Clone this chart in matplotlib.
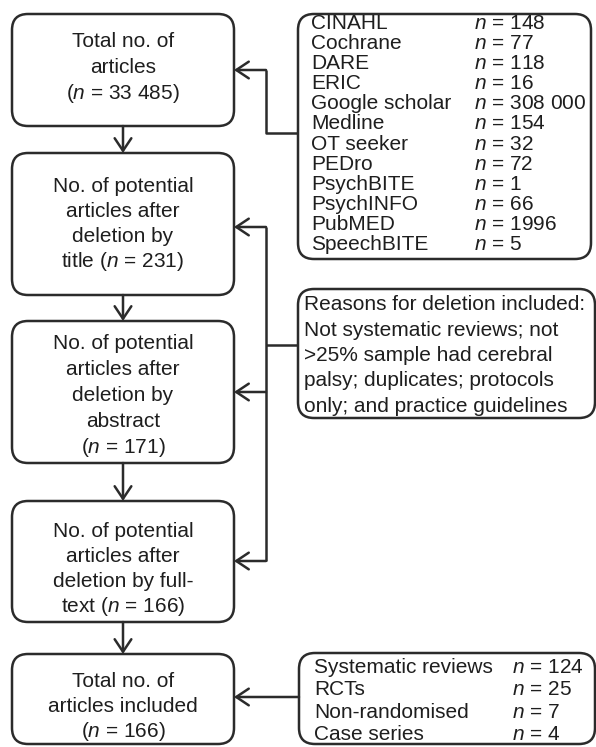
#!/usr/bin/env python3
import matplotlib
matplotlib.use("Agg")
import matplotlib.pyplot as plt
from matplotlib.patches import FancyBboxPatch

# data
flow_steps = [
    ["Total no. of", "articles", "($n$ = 33 485)"],
    ["No. of potential", "articles after", "deletion by", "title ($n$ = 231)"],
    ["No. of potential", "articles after", "deletion by", "abstract", "($n$ = 171)"],
    ["No. of potential", "articles after", "deletion by full-", "text ($n$ = 166)"],
    ["Total no. of", "articles included", "($n$ = 166)"],
]
databases = ["CINAHL", "Cochrane", "DARE", "ERIC", "Google scholar", "Medline",
             "OT seeker", "PEDro", "PsychBITE", "PsychINFO", "PubMED", "SpeechBITE"]
database_n = ["148", "77", "118", "16", "308 000", "154",
              "32", "72", "1", "66", "1996", "5"]
reasons = ["Reasons for deletion included:",
           "Not systematic reviews; not",
           ">25% sample had cerebral",
           "palsy; duplicates; protocols",
           "only; and practice guidelines"]
study_types = ["Systematic reviews", "RCTs", "Non-randomised", "Case series"]
study_n = ["124", "25", "7", "4"]

plt.rcParams['font.family'] = 'Liberation Sans'
plt.rcParams['mathtext.fontset'] = 'custom'
plt.rcParams['mathtext.rm'] = 'Liberation Sans'
plt.rcParams['mathtext.it'] = 'Liberation Sans:italic'

INK = "#2b2b2b"
TXT = "#1e1e1e"
LW = 1.8
FS = 15

fig = plt.figure(figsize=(5.96, 7.47), dpi=100)
ax = fig.add_axes([0, 0, 1, 1])
ax.set_xlim(0, 596)
ax.set_ylim(747, 0)
ax.axis('off')


def box(x0, y0, x1, y1):
    p = FancyBboxPatch((x0, y0), x1 - x0, y1 - y0,
                       boxstyle="round,pad=0,rounding_size=16",
                       fc="white", ec=INK, lw=LW, zorder=2)
    ax.add_patch(p)


def arrow(start, end):
    ax.annotate("", xy=end, xytext=start,
                arrowprops=dict(arrowstyle="->,head_length=0.45,head_width=0.3",
                                lw=LW, color=INK, shrinkA=0, shrinkB=0,
                                mutation_scale=20), zorder=3)


def line(xs, ys):
    ax.plot(xs, ys, color=INK, lw=LW, solid_capstyle='butt', zorder=1)


def label(x, y, t, ha='left'):
    ax.text(x, y, t, ha=ha, va='baseline', fontsize=FS, color=TXT, zorder=4)


# left column boxes: (top, bottom, first baseline, line step)
left_x0, left_x1 = 12, 234
cx = (left_x0 + left_x1) / 2
box_y = [(14, 126), (153, 295), (321, 463), (501, 622), (654, 744)]
first_base = [47, 192, 349, 537, 687]
steps = [26, 25, 26, 25, 25]
for (y0, y1), lines, b0, st in zip(box_y, flow_steps, first_base, steps):
    box(left_x0, y0, left_x1, y1)
    for i, t in enumerate(lines):
        label(cx, b0 + i * st, t, ha='center')

# down arrows
for (a0, a1), (b0, b1) in zip(box_y[:-1], box_y[1:]):
    arrow((cx, a1), (cx, b0))

# databases box
box(298, 14, 591, 259)
db_step = (250 - 29) / (len(databases) - 1)
for i, (name, n) in enumerate(zip(databases, database_n)):
    y = 29 + i * db_step
    label(311, y, name)
    label(474, y, "$n$ = " + n)

# connector databases -> box 1
line([298, 266, 266], [133, 133, 70])
arrow((266, 70), (left_x1, 70))

# reasons box
box(298, 289, 595, 418)
for i, t in enumerate(reasons):
    label(304, 310 + i * 25.5, t)

# vertical connector with arrows into boxes 2-4
line([266, 266], [227, 561])
line([266, 298], [345, 345])
for y in [227, 392, 561]:
    arrow((266, y), (left_x1, y))

# study types box
box(299, 653, 595, 744)
for i, (name, n) in enumerate(zip(study_types, study_n)):
    y = 673 + i * 22.3
    label(314, y, name)
    label(512, y, "$n$ = " + n)
arrow((299, 697), (left_x1, 697))

fig.savefig("out.png", dpi=100, facecolor="white")
